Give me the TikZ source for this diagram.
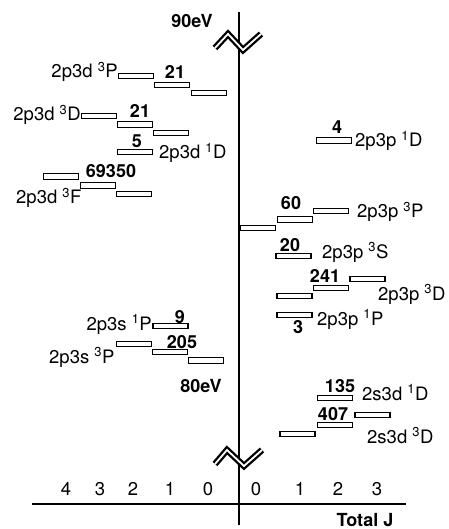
\documentclass[tikz,border=0pt]{standalone}
\usepackage{fontspec}
\setmainfont{TeX Gyre Heros}
\usetikzlibrary{positioning}

\begin{document}
\begin{tikzpicture}[x=1pt,y=-1pt,
    lvl/.style={draw, line width=1.4pt, fill=white, minimum width=35pt,
        minimum height=5.5pt, inner sep=0pt},
    lbl/.style={font=\fontsize{18.5}{22}\selectfont, inner sep=0pt},
    num/.style={font=\fontsize{18}{22}\selectfont\bfseries, inner sep=0pt},
    brk/.style={line width=2.3pt, double=white, double distance=1.8pt}]
    \useasboundingbox (0,0) rectangle (448,529);

    % axes
    \coordinate (top) at (239,12);
    \coordinate (bot) at (239,525);
    \draw[line width=2.8pt] (top) -- (bot);
    \coordinate (jl) at (32,504);
    \coordinate (jr) at (406,504);
    \draw[line width=1.4pt] (jl) -- (jr);

    % axis breaks
    \draw[brk] (215,48) -- (228,34) -- (243,50) -- (261,34);
    \draw[brk] (215,464) -- (227,450) -- (244,466) -- (262,450);

    \node[num, anchor=base] (e90) at (192,28) {90eV};
    \node[num, anchor=base] (e80) at (201,392) {80eV};
    \node[num, anchor=base] (totj) at (365,526) {Total J};

    % J values
    \foreach \x/\j [count=\i] in {66/4,100/3,133/2,170/1,208/0,256/0,300/1,338/2,377/3}
        \node[lbl, anchor=base] (j\i) at (\x,495) {\j};

    % left side: 2p3d and 2p3s
    \node[lvl] (dP2) at (136,76) {};
    \node[lvl] (dP1) at (172,85) {};
    \node[lvl] (dP0) at (209,93) {};
    \node[lbl, anchor=base east] (dPl) at (118,78) {2p3d \textsuperscript{3}P};
    \node[num] (dPn) at (175,72) {21};

    \node[lvl] (dD3) at (99,116) {};
    \node[lvl] (dD2) at (135,124.5) {};
    \node[lvl] (dD1) at (171,133) {};
    \node[lbl, anchor=base east] (dDl) at (81,121) {2p3d \textsuperscript{3}D};
    \node[num] (dDn) at (140,111) {21};

    \node[lvl] (sD2) at (135,152) {};
    \node[lbl, anchor=base west] (sDl) at (159,159) {2p3d \textsuperscript{1}D};
    \node[num] (sDn) at (137,141) {5};

    \node[lvl] (dF4) at (61,176.5) {};
    \node[lvl] (dF3) at (98,185.5) {};
    \node[lvl] (dF2) at (134,194) {};
    \node[lbl, anchor=base west] (dFl) at (16,204) {2p3d \textsuperscript{3}F};
    \node[num] (dFn) at (111,171) {69350};

    \node[lvl] (sP1) at (170.5,326) {};
    \node[lbl, anchor=base east] (sPl) at (152,330) {2p3s \textsuperscript{1}P};
    \node[num] (sPn) at (180,317) {9};

    \node[lvl] (tP2) at (134,344) {};
    \node[lvl] (tP1) at (170,352) {};
    \node[lvl] (tP0) at (206,360.5) {};
    \node[lbl, anchor=base west] (tPl) at (49,363) {2p3s \textsuperscript{3}P};
    \node[num] (tPn) at (182,342) {205};

    % right side: 2p3p and 2s3d
    \node[lvl] (pD2) at (334,140.5) {};
    \node[lbl, anchor=base west] (pDl) at (355,147) {2p3p \textsuperscript{1}D};
    \node[num] (pDn) at (337,127) {4};

    \node[lvl] (pP0) at (258,228) {};
    \node[lvl] (pP1) at (295,219.5) {};
    \node[lvl] (pP2) at (331,211) {};
    \node[lbl, anchor=base west] (pPl) at (357,218) {2p3p \textsuperscript{3}P};
    \node[num] (pPn) at (291,203) {60};

    \node[lvl] (pS1) at (293.5,256) {};
    \node[lbl, anchor=base west] (pSl) at (322,258) {2p3p \textsuperscript{3}S};
    \node[num] (pSn) at (290,245) {20};

    \node[lvl] (qD1) at (294.5,296) {};
    \node[lvl] (qD2) at (331,288) {};
    \node[lvl] (qD3) at (367.5,279) {};
    \node[lbl, anchor=base west] (qDl) at (378,300) {2p3p \textsuperscript{3}D};
    \node[num] (qDn) at (325,276) {241};

    \node[lvl] (qP1) at (294.5,315) {};
    \node[lbl, anchor=base west] (qPl) at (317,325) {2p3p \textsuperscript{1}P};
    \node[num] (qPn) at (298,327) {3};

    \node[lvl] (aD2) at (335,398) {};
    \node[lbl, anchor=base west] (aDl) at (362,400) {2s3d \textsuperscript{1}D};
    \node[num] (aDn) at (340,386) {135};

    \node[lvl] (bD1) at (297.5,434) {};
    \node[lvl] (bD2) at (335,425) {};
    \node[lvl] (bD3) at (372.5,415) {};
    \node[lbl, anchor=base west] (bDl) at (367,443) {2s3d \textsuperscript{3}D};
    \node[num] (bDn) at (333,414) {407};

\end{tikzpicture}
\end{document}
